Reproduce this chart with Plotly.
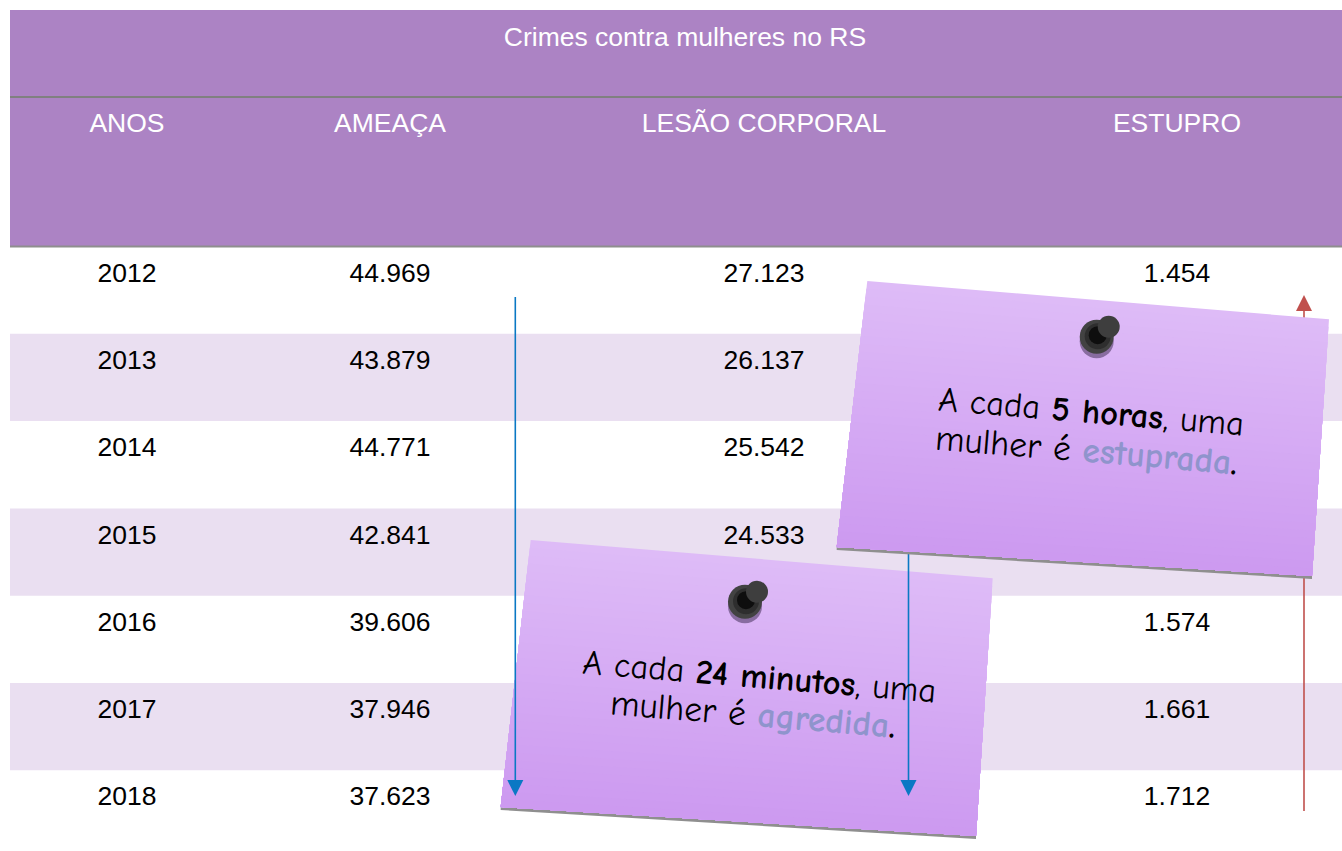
import plotly.graph_objects as go

anos = [2012, 2013, 2014, 2015, 2016, 2017, 2018]
ameaca = [44969, 43879, 44771, 42841, 39606, 37946, 37623]
lesao = [27123, 26137, 25542, 24533, None, None, None]
estupro = [1454, None, None, None, 1574, 1661, 1712]
cabecalho = ["ANOS", "AMEAÇA", "LESÃO CORPORAL", "ESTUPRO"]
titulo = "Crimes contra mulheres no RS"
nota1_l1 = "A cada <b>5 horas</b>, uma"
nota1_l2 = "mulher é <b><span style='color:#8F94CC'>estuprada</span></b><b>.</b>"
nota2_l1 = "A cada <b>24 minutos</b>, uma"
nota2_l2 = "mulher é <b><span style='color:#8F94CC'>agredida</span></b><b>.</b>"

W, H = 1342, 851
col_x = [127, 390, 764, 1177]
row0, row_h = 275, 87.3
FONT = "Liberation Sans, Arial, sans-serif"
NOTE_FONT = "Comic Sans MS, Comic Neue, Lato, sans-serif"


def fmt(v):
    return "" if v is None else f"{v:,}".replace(",", ".")


fig = go.Figure()
row_y = [row0 + i * row_h for i in range(len(anos))]
for cx, vals in zip(col_x, [anos, ameaca, lesao, estupro]):
    labels = [str(v) if vals is anos else fmt(v) for v in vals]
    fig.add_trace(go.Scatter(x=[cx] * len(vals), y=row_y, mode="text", text=labels,
                             textposition="middle center",
                             textfont=dict(family=FONT, size=26.5, color="#000000"),
                             hoverinfo="skip", showlegend=False))
fig.add_trace(go.Scatter(x=col_x, y=[125] * 4, mode="text", text=cabecalho,
                         textposition="middle center",
                         textfont=dict(family=FONT, size=26.5, color="#FFFFFF"),
                         hoverinfo="skip", showlegend=False))

shapes = []


def rect(x0, y0, x1, y1, color, layer="below"):
    shapes.append(dict(type="rect", xref="x", yref="y", x0=x0, y0=y0, x1=x1, y1=y1,
                       fillcolor=color, line=dict(width=0), layer=layer))


def poly(pts, color, layer="above"):
    d = "M " + " L ".join(f"{x:.2f},{y:.2f}" for x, y in pts) + " Z"
    shapes.append(dict(type="path", xref="x", yref="y", path=d, fillcolor=color,
                       line=dict(width=0), layer=layer))


def circle(cx, cy, r, color):
    shapes.append(dict(type="circle", xref="x", yref="y", x0=cx - r, x1=cx + r,
                       y0=cy - r, y1=cy + r, fillcolor=color, line=dict(width=0),
                       layer="above"))


def lerp(a, b, t):
    return (a[0] + (b[0] - a[0]) * t, a[1] + (b[1] - a[1]) * t)


def note(tl, tr, br, bl, pin):
    poly([bl, br, (br[0], br[1] + 3), (bl[0], bl[1] + 3)], "#8F8F8F")
    n = 34
    top, bottom = (222, 187, 247), (204, 153, 240)
    for i in range(n):
        t = i / n
        c = tuple(round(top[k] + (bottom[k] - top[k]) * t) for k in range(3))
        poly([lerp(tl, bl, t), lerp(tr, br, t), br, bl], f"rgb{c}")
    px, py = pin
    circle(px, py + 4.5, 17, "rgba(70,50,90,0.55)")
    circle(px, py, 17, "#424242")
    circle(px + 1, py - 0.5, 13, "#2E2E2E")
    circle(px + 1, py - 1.5, 9, "#0E0E0E")
    circle(px + 12, py - 10, 11, "#3E3E3E")


def arrow_line(x, y0, y1, color):
    shapes.append(dict(type="line", xref="x", yref="y", x0=x, x1=x, y0=y0, y1=y1,
                       line=dict(color=color, width=1.6), layer="above"))


def arrow_head(x, tip, base, color):
    poly([(x, tip), (x - 8, base), (x + 8, base)], color)


# bands and header
rect(10, 10, W, 97, "#AC83C4")
rect(10, 97, W, 246, "#AC83C4")
for i in (1, 3, 5):
    rect(10, 246.5 + i * 87.3, W, 246.5 + (i + 1) * 87.3, "#EADFF1")
rect(10, 96, W, 98, "#808080")
rect(10, 245.5, W, 247.5, "#8E8E8E")

# annotations drawn over the table, in stacking order
arrow_line(1304, 811, 310, "#C0504D")
arrow_head(1304, 295, 311, "#C0504D")
note((530.7, 540), (992.7, 578.3), (976, 836), (500.7, 807), (745, 601.7))
arrow_line(515.3, 297, 782, "#0A78C4")
arrow_head(515.3, 796, 780, "#0A78C4")
arrow_line(908.5, 545, 782, "#0A78C4")
arrow_head(908.5, 796, 780, "#0A78C4")
note((867.3, 281), (1329, 319.3), (1312, 576), (836.7, 547), (1096.7, 336.7))


def line_text(text, x, y, size):
    return dict(text=text, x=x, y=y, xref="x", yref="y", showarrow=False, textangle=4.7,
                font=dict(family=NOTE_FONT, size=size, color="#000000"))


fig.update_layout(
    width=W, height=H, margin=dict(l=0, r=0, t=0, b=0),
    plot_bgcolor="#FFFFFF", paper_bgcolor="#FFFFFF", hovermode=False,
    xaxis=dict(range=[0, W], visible=False, fixedrange=True),
    yaxis=dict(range=[H, 0], visible=False, fixedrange=True),
    shapes=shapes,
    title=dict(text=titulo, x=685 / W, y=1 - 37 / H, xanchor="center", yanchor="middle",
               xref="paper", yref="paper",
               font=dict(family=FONT, size=26.5, color="#FFFFFF")),
    annotations=[
        line_text(nota1_l1, 1091, 411.5, 34.5),
        line_text(nota1_l2, 1086, 450, 35.5),
        line_text(nota2_l1, 759, 677, 34.5),
        line_text(nota2_l2, 753, 714, 35.5),
    ],
)
fig.write_html("out.html", config=dict(displayModeBar=False),
               post_script="document.body.style.margin='0';")
